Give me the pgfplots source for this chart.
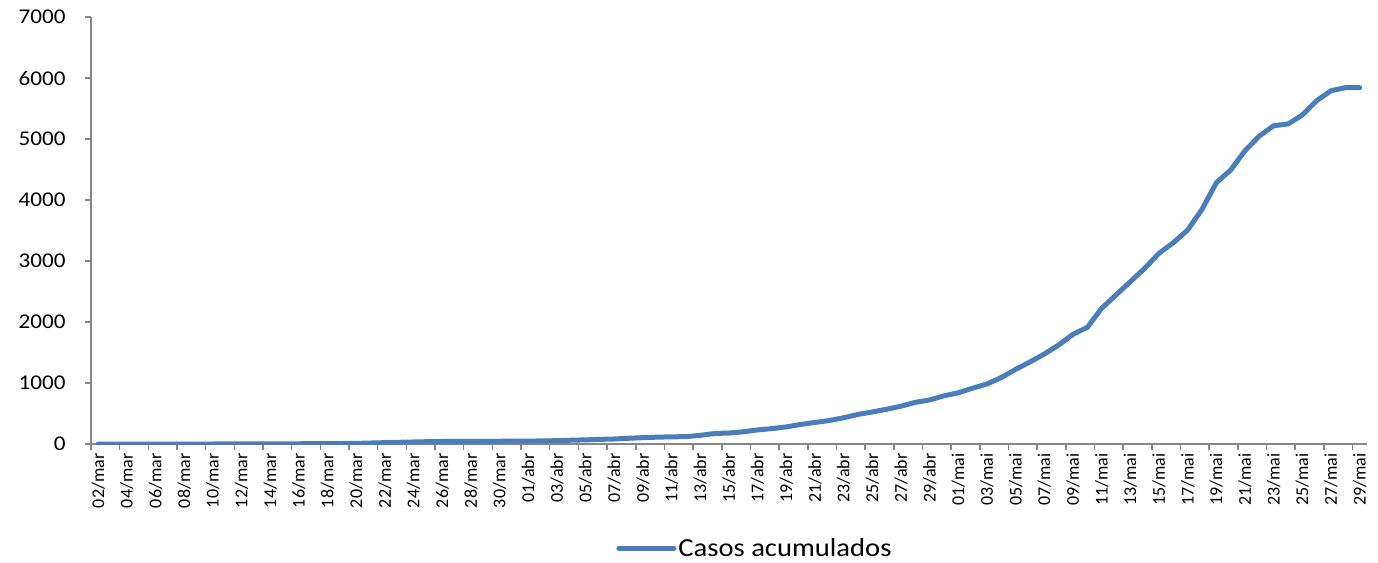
\documentclass[border=0pt]{standalone}
\usepackage{pgfplots}
\pgfplotsset{compat=1.18}
\usepackage{fontspec}
\setmainfont{Carlito}
\newfontfamily\stretchfont[FakeStretch=1.1]{Carlito}
\definecolor{axisgray}{HTML}{868686}
\definecolor{lineblue}{HTML}{4A7EBB}
\begin{document}
\begin{tikzpicture}
\path[use as bounding box] (0,0) rectangle (1378pt,562pt);
\begin{axis}[
  at={(91pt,118pt)}, anchor=south west,
  scale only axis, width=1276pt, height=427pt,
  xmin=-0.5, xmax=88.5, ymin=0, ymax=7000,
  axis x line=bottom, axis y line=left,
  axis line style={-, draw=axisgray, line width=1.5pt},
  tick align=outside,
  major tick length=6pt,
  ytick={0,1000,2000,3000,4000,5000,6000,7000},
  yticklabels={0,1000,2000,3000,4000,5000,6000,7000},
  ytick style={draw=axisgray, line width=1.5pt},
  yticklabel style={font=\stretchfont\fontsize{21}{21}\selectfont, anchor=east, xshift=-16pt},
  xtick={0,2,...,88},
  xticklabels={02/mar,04/mar,06/mar,08/mar,10/mar,12/mar,14/mar,16/mar,18/mar,20/mar,22/mar,24/mar,26/mar,28/mar,30/mar,01/abr,03/abr,05/abr,07/abr,09/abr,11/abr,13/abr,15/abr,17/abr,19/abr,21/abr,23/abr,25/abr,27/abr,29/abr,01/mai,03/mai,05/mai,07/mai,09/mai,11/mai,13/mai,15/mai,17/mai,19/mai,21/mai,23/mai,25/mai,27/mai,29/mai},
  xtick style={draw=none},
  xticklabel style={font=\fontsize{18}{18}\selectfont, rotate=90, anchor=east, yshift=0pt},
  extra x ticks={-0.5,1.5,...,87.5},
  extra x tick labels={},
  extra x tick style={xtick style={draw=axisgray, line width=1.5pt}},
  legend style={at={(0.5204,-0.2436)}, anchor=center, draw=none, fill=none,
    font=\stretchfont\fontsize{26}{26}\selectfont, inner sep=0pt},
  legend image code/.code={\draw[#1] (0pt,0pt) -- (55pt,0pt);},
  legend cell align=left,
]
\addplot[color=lineblue, line width=5pt, line join=round, line cap=round, mark=none] coordinates {
(0,0) (1,0) (2,0) (3,0) (4,0) (5,0) (6,0) (7,0) (8,0) (9,1)
(10,1) (11,2) (12,2) (13,3) (14,4) (15,5) (16,6) (17,8) (18,10) (19,16)
(20,22) (21,28) (22,33) (23,38) (24,41) (25,42) (26,43) (27,44) (28,45) (29,46)
(30,48) (31,50) (32,55) (33,62) (34,68) (35,76) (36,82) (37,94) (38,104) (39,112)
(40,118) (41,120) (42,142) (43,172) (44,180) (45,200) (46,231) (47,252) (48,280) (49,320)
(50,353) (51,385) (52,430) (53,485) (54,525) (55,570) (56,620) (57,683) (58,722) (59,790)
(60,840) (61,915) (62,984) (63,1090) (64,1224) (65,1345) (66,1475) (67,1623) (68,1798) (69,1913)
(70,2224) (71,2443) (72,2661) (73,2880) (74,3126) (75,3300) (76,3508) (77,3847) (78,4284) (79,4492)
(80,4808) (81,5049) (82,5218) (83,5246) (84,5393) (85,5628) (86,5792) (87,5841) (88,5841)
};
\addlegendentry{Casos acumulados}
\end{axis}
\end{tikzpicture}
\end{document}
